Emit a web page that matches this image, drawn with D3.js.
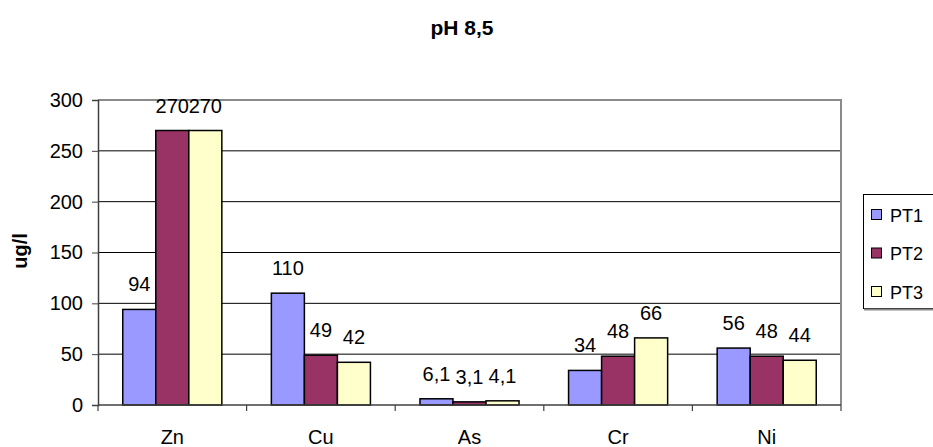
<!DOCTYPE html>
<html>
<head>
<meta charset="utf-8">
<script src="https://cdn.jsdelivr.net/npm/d3@7"></script>
<style>
  html, body { margin: 0; padding: 0; background: #fff; }
  svg { display: block; font-family: "Liberation Sans", Arial, sans-serif; }
</style>
</head>
<body>
<svg id="chart" width="933" height="447"></svg>
<script>
// Metal concentrations (ug/l) at pH 8,5 per sampling point
const categories = ["Zn", "Cu", "As", "Cr", "Ni"];
const seriesNames = ["PT1", "PT2", "PT3"];
const pt1 = [94, 110, 6.1, 34, 56];
const pt2 = [270, 49, 3.1, 48, 48];
const pt3 = [270, 42, 4.1, 66, 44];
const yTicks = [0, 50, 100, 150, 200, 250, 300];
const seriesColors = ["#9999FF", "#993366", "#FFFFCC"];

const series = [pt1, pt2, pt3];
const fmt = v => String(v).replace(".", ",");

const svg = d3.select("#chart");
const plot = { left: 98, right: 841, top: 100, bottom: 405 };

const x = d3.scaleBand()
  .domain(categories)
  .range([plot.left, plot.right])
  .paddingInner(0)
  .paddingOuter(0);

// Gap width of 150% between groups
const groupWidth = x.bandwidth() / (seriesNames.length + 1.5) * seriesNames.length;
const xInner = d3.scaleBand()
  .domain(seriesNames)
  .range([0, groupWidth])
  .padding(0);

const y = d3.scaleLinear().domain([0, 300]).range([plot.bottom, plot.top]);

// Title
svg.append("text")
  .attr("x", 462).attr("y", 35)
  .attr("text-anchor", "middle")
  .attr("font-size", 21).attr("font-weight", "bold")
  .text("pH 8,5");

// Gridlines
svg.append("g")
  .selectAll("line")
  .data(yTicks.filter(t => t > 0))
  .join("line")
  .attr("x1", plot.left).attr("x2", plot.right)
  .attr("y1", d => y(d)).attr("y2", d => y(d))
  .attr("stroke", "#000").attr("stroke-width", 1);

// Plot area border (top and right)
svg.append("path")
  .attr("d", `M${plot.left},${plot.top}H${plot.right}V${plot.bottom}`)
  .attr("fill", "none").attr("stroke", "#8a8a8a").attr("stroke-width", 2);

// Bars
const groups = svg.append("g")
  .selectAll("g")
  .data(categories)
  .join("g")
  .attr("transform", d => `translate(${x(d) + (x.bandwidth() - groupWidth) / 2},0)`);

const cells = (d, i) => seriesNames.map((s, j) => ({ s, j, v: series[j][i] }));

groups.selectAll("rect")
  .data(cells)
  .join("rect")
  .attr("x", d => xInner(d.s))
  .attr("y", d => y(d.v))
  .attr("width", xInner.bandwidth())
  .attr("height", d => y(0) - y(d.v))
  .attr("fill", d => seriesColors[d.j])
  .attr("stroke", "#000").attr("stroke-width", 1.5);

groups.selectAll("text")
  .data(cells)
  .join("text")
  .attr("x", d => xInner(d.s) + xInner.bandwidth() / 2)
  .attr("y", d => y(d.v) - 18)
  .attr("text-anchor", "middle")
  .attr("font-size", 20)
  .text(d => fmt(d.v));

// Y axis
const yAxis = svg.append("g")
  .attr("transform", `translate(${plot.left},0)`)
  .call(d3.axisLeft(y).tickValues(yTicks).tickSize(6).tickPadding(9).tickFormat(d3.format("d")));
yAxis.select(".domain").attr("stroke", "#404040").attr("stroke-width", 1.5);
yAxis.selectAll(".tick line").attr("stroke", "#404040");
yAxis.selectAll("text").attr("font-size", 20).attr("fill", "#000")
  .attr("font-family", "Liberation Sans, Arial, sans-serif");

// X axis with ticks at category boundaries
const xAxisG = svg.append("g");
xAxisG.append("line")
  .attr("x1", plot.left).attr("x2", plot.right)
  .attr("y1", plot.bottom).attr("y2", plot.bottom)
  .attr("stroke", "#404040").attr("stroke-width", 1.5);
const boundaries = categories.map(c => x(c)).concat([x(categories[categories.length - 1]) + x.bandwidth()]);
xAxisG.selectAll("line.tk")
  .data(boundaries)
  .join("line").attr("class", "tk")
  .attr("x1", d => d).attr("x2", d => d)
  .attr("y1", plot.bottom).attr("y2", plot.bottom + 6)
  .attr("stroke", "#404040").attr("stroke-width", 1.2);
xAxisG.selectAll("text")
  .data(categories)
  .join("text")
  .attr("x", d => x(d) + x.bandwidth() / 2)
  .attr("y", 444)
  .attr("text-anchor", "middle")
  .attr("font-size", 20)
  .text(d => d);

// Y axis title
svg.append("text")
  .attr("transform", "translate(27,251) rotate(-90)")
  .attr("text-anchor", "middle")
  .attr("font-size", 20).attr("font-weight", "bold")
  .text("ug/l");

// Legend
const legend = svg.append("g");
legend.append("rect")
  .attr("x", 863.5).attr("y", 194.5).attr("width", 80).attr("height", 114)
  .attr("fill", "#fff").attr("stroke", "#000").attr("stroke-width", 1);
legend.append("line")
  .attr("x1", 864).attr("x2", 933).attr("y1", 309.5).attr("y2", 309.5)
  .attr("stroke", "#8a8a8a").attr("stroke-width", 2);
const ly = d3.scalePoint().domain(seriesNames).range([215, 292]);
const items = legend.selectAll("g.item")
  .data(seriesNames)
  .join("g").attr("class", "item")
  .attr("transform", d => `translate(0,${ly(d)})`);
items.append("rect")
  .attr("x", 871.5).attr("y", -5.5).attr("width", 10).attr("height", 10)
  .attr("fill", (d, i) => seriesColors[i])
  .attr("stroke", "#000").attr("stroke-width", 1);
items.append("text")
  .attr("x", 890).attr("y", 6.5)
  .attr("font-size", 18)
  .text(d => d);
</script>
</body>
</html>
